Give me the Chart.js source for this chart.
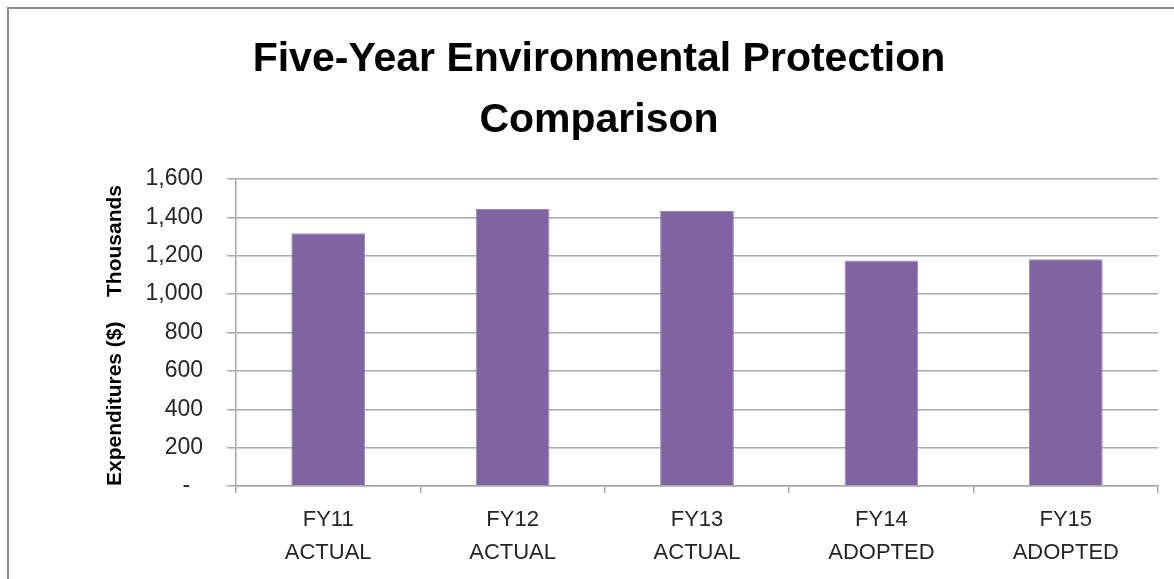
<!DOCTYPE html>
<html>
<head>
<meta charset="utf-8">
<title>Five-Year Environmental Protection Comparison</title>
<script src="https://cdn.jsdelivr.net/npm/chart.js@4.4.1/dist/chart.umd.min.js"></script>
<style>
  html, body { margin: 0; padding: 0; background: #fff; overflow: hidden; }
  .frame {
    position: absolute; left: 7px; top: 7px;
    width: 1200px; height: 600px;
    border: 2px solid #8c8c8c;
  }
  #chart { position: absolute; left: 0; top: 0; }
</style>
</head>
<body>
<div class="frame"></div>
<canvas id="chart" width="1174" height="579"></canvas>
<script>
const fiscalYears = ["FY11", "FY12", "FY13", "FY14", "FY15"];
const budgetTypes = ["ACTUAL", "ACTUAL", "ACTUAL", "ADOPTED", "ADOPTED"];
// expenditures in thousands of dollars
const expenditures = [1317, 1443, 1433, 1175, 1182];
const yTicks = [0, 200, 400, 600, 800, 1000, 1200, 1400, 1600];

const FONT = "'Liberation Sans', Arial, sans-serif";
const GRID = "#a8a8a8";
const yTitlePad = 63;

// "Thousands" display-unit label above the axis title
const unitsLabel = {
  id: "unitsLabel",
  afterDraw(chart) {
    const y = chart.scales.y;
    const ctx = chart.ctx;
    ctx.save();
    ctx.translate(y.left + yTitlePad + 12.6, chart.chartArea.top + 62);
    ctx.rotate(-Math.PI / 2);
    ctx.font = "bold 21px " + FONT;
    ctx.fillStyle = "#000";
    ctx.textAlign = "center";
    ctx.textBaseline = "middle";
    ctx.fillText("Thousands", 0, 0);
    ctx.restore();
  }
};

new Chart(document.getElementById("chart"), {
  type: "bar",
  data: {
    labels: fiscalYears.map((fy, i) => [fy, budgetTypes[i]]),
    datasets: [
      {
        label: "Expenditures",
        data: expenditures,
        backgroundColor: "#8064A2",
        borderColor: "#9c86ba",
        borderWidth: 1,
        barPercentage: 0.4,
        categoryPercentage: 1,
      },
    ],
  },
  options: {
    responsive: false,
    devicePixelRatio: 1,
    animation: false,
    layout: { padding: { left: 40, right: 16, top: 0, bottom: 10 } },
    plugins: {
      legend: { display: false },
      tooltip: { enabled: false },
      title: {
        display: true,
        text: ["Five-Year Environmental Protection", "Comparison"],
        color: "#000",
        font: { family: FONT, size: 41, weight: "bold", lineHeight: "61px" },
        padding: { top: 29, bottom: 28 },
      },
    },
    scales: {
      x: {
        grid: {
          display: true,
          drawOnChartArea: false,
          drawTicks: true,
          tickLength: 7,
          color: GRID,
          lineWidth: 1.5,
        },
        border: { color: GRID, width: 1.5 },
        ticks: {
          color: "#262626",
          padding: 10,
          font: { family: FONT, size: 22, lineHeight: "33px" },
        },
        afterFit(scale) { scale.height = 83; },
      },
      y: {
        min: 0,
        max: 1600,
        afterBuildTicks(scale) {
          scale.ticks = yTicks.map((v) => ({ value: v }));
        },
        grid: { color: GRID, lineWidth: 1.5, tickLength: 9 },
        border: { color: GRID, width: 1.5 },
        ticks: {
          color: "#262626",
          padding: 24,
          font: { family: FONT, size: 23 },
          callback: (v) => (v === 0 ? "-  " : v.toLocaleString("en-US")),
        },
        title: {
          display: true,
          text: "Expenditures ($)",
          align: "start",
          color: "#000",
          font: { family: FONT, size: 21, weight: "bold" },
          padding: { top: yTitlePad, bottom: 0 },
        },
        afterFit(scale) { scale.width = 196; },
      },
    },
  },
  plugins: [unitsLabel],
});
</script>
</body>
</html>
